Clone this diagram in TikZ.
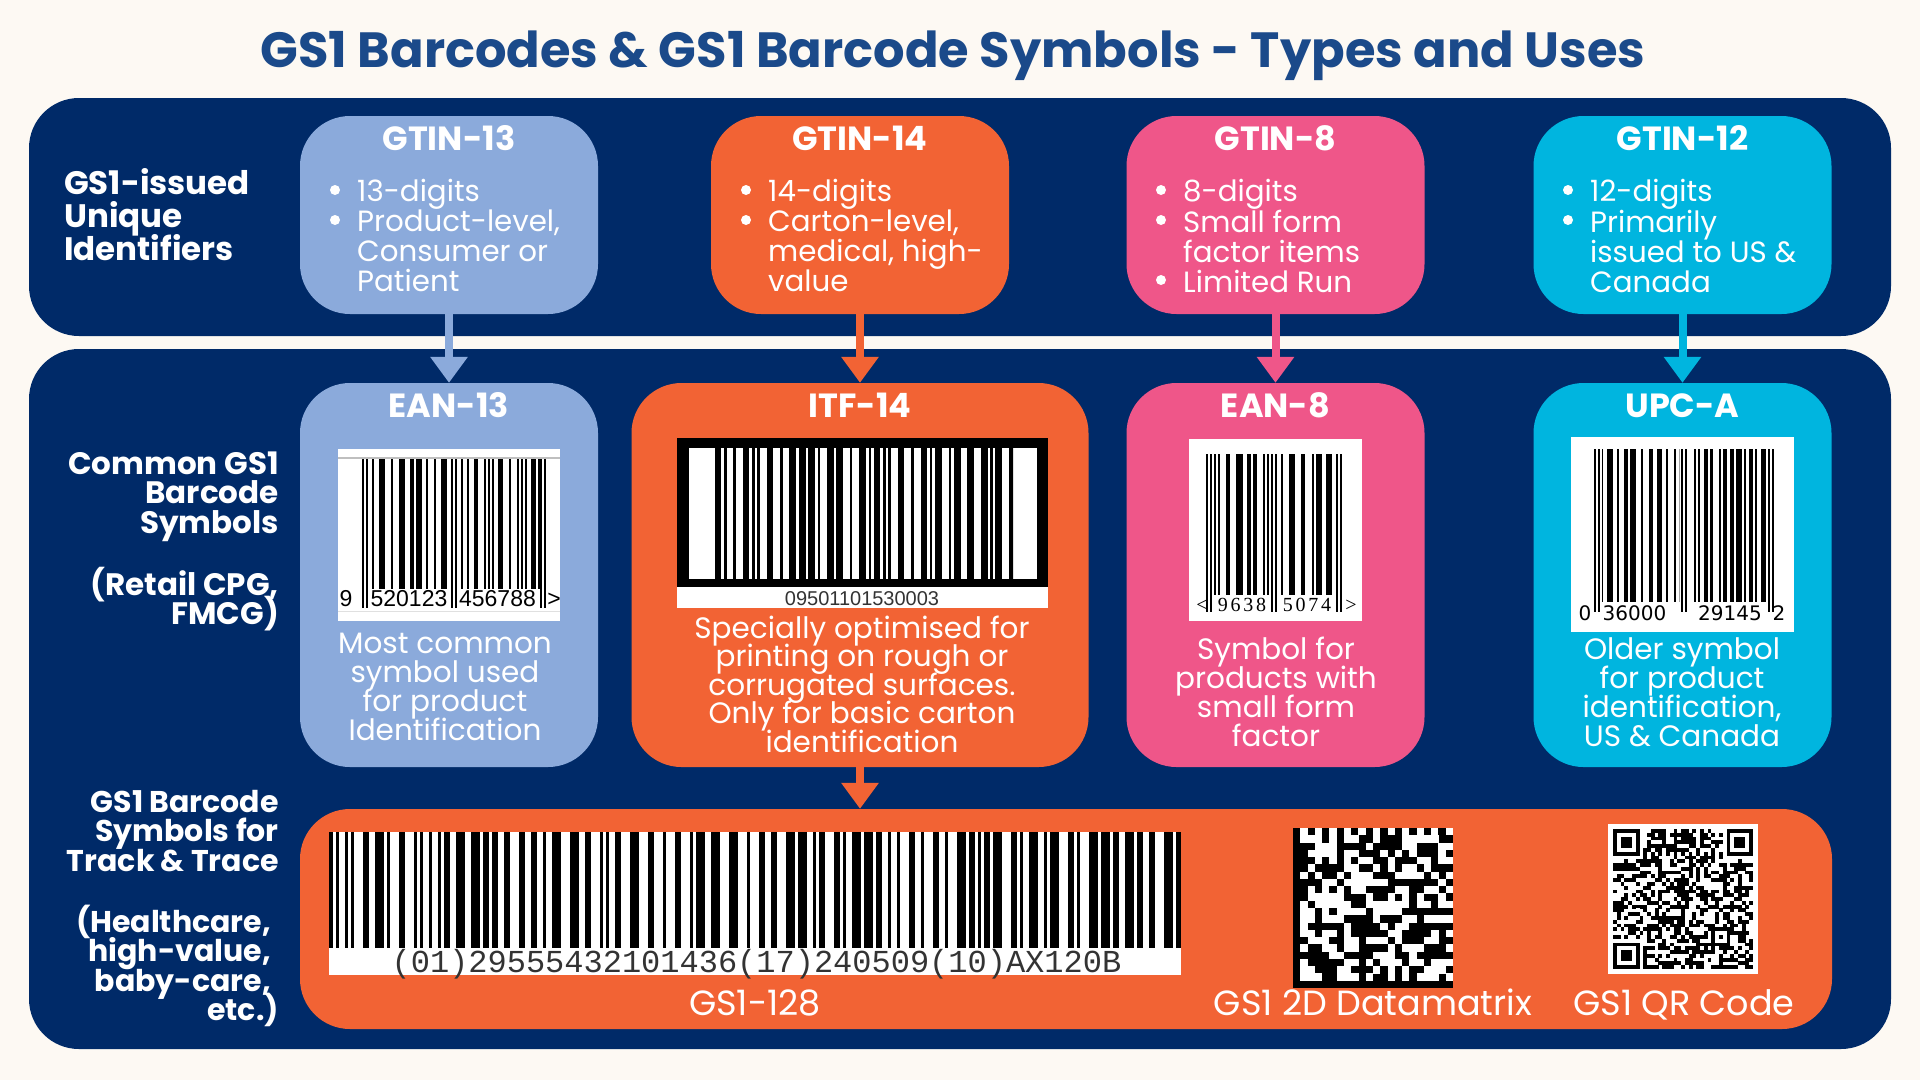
\documentclass[tikz,border=0pt]{standalone}
\usepackage{fontspec}
\setmainfont{Poppins}
\newfontfamily\monofont{Liberation Mono}
\newfontfamily\sansdigits{Liberation Sans}
\newfontfamily\dvdigits{DejaVu Sans}
\newfontfamily\serifdigits{Liberation Serif}[LetterSpace=14]
\usetikzlibrary{arrows.meta}

\definecolor{bgc}{HTML}{FDF9F3}
\definecolor{navy}{HTML}{002A68}
\definecolor{titleblue}{HTML}{1B4A8A}
\definecolor{lblue}{HTML}{8BAADB}
\definecolor{orng}{HTML}{F26334}
\definecolor{pnk}{HTML}{EF5689}
\definecolor{cyn}{HTML}{00B5DF}
\definecolor{dgray}{HTML}{333333}

\tikzset{
  panel/.style={fill=navy, rounded corners=50pt, inner sep=0pt, draw=none},
  card/.style={rounded corners=50pt, inner sep=0pt, draw=none},
  ttl/.style={text=white, font=\fontsize{33.5}{35}\selectfont\bfseries, inner sep=0pt, anchor=base},
  body/.style={text=white, font=\fontsize{29.3}{30}\selectfont, inner sep=0pt, anchor=base west},
  desc/.style={text=white, font=\fontsize{29.5}{30}\selectfont, inner sep=0pt, anchor=base},
  side/.style={text=white, font=\fontsize{31}{33}\selectfont\bfseries, inner sep=0pt},
  lbl/.style={text=white, font=\fontsize{35}{36}\selectfont, inner sep=0pt, anchor=base},
  digs/.style={inner sep=0pt, anchor=base, text=black},
  dot/.style={fill=white},
  flow/.style={line width=8pt, -{Triangle[width=36pt,length=26pt]}},
}

% lines of text: name, style, x, first baseline, step, list
\newcommand\txtlines[6]{%
  \foreach \lnx [count=\k] in {#6}
    \node[#2] (#1-\k) at (#3,{#4+(\k-1)*#5}) {\lnx};%
}
\newcommand\bulletbox[1]{\parbox[t]{270pt}{\raggedright #1}}
% random bars: x0 x1 ytop ybot module seed
\newcommand\randbars[6]{%
  \begin{scope}
  \clip ({#1},#3) rectangle ({#2},#4);
  \pgfmathsetseed{#6}%
  \pgfmathsetmacro\bx{#1}%
  \loop
    \pgfmathrandominteger{\rb}{1}{3}%
    \pgfmathrandominteger{\rs}{1}{3}%
    \pgfmathsetmacro\bxs{\bx+\rs*#5}%
    \pgfmathsetmacro\bxe{\bxs+\rb*#5}%
    \fill[black] (\bxs,#3) rectangle (\bxe,#4);
    \let\bx\bxe
    \pgfmathtruncatemacro\cont{\bxe<#2}%
  \ifnum\cont=1 \repeat
  \end{scope}%
}
% narrow / wide bars: x0 x1 ytop ybot narrow seed
\newcommand\itfbars[6]{%
  \begin{scope}
  \clip ({#1},#3) rectangle ({#2},#4);
  \pgfmathsetseed{#6}%
  \pgfmathsetmacro\bx{#1}%
  \loop
    \pgfmathrandominteger{\rb}{0}{1}%
    \pgfmathrandominteger{\rs}{0}{1}%
    \pgfmathsetmacro\bxs{\bx+(1+1.6*\rs)*#5}%
    \pgfmathsetmacro\bxe{\bxs+(1+1.6*\rb)*#5}%
    \fill[black] (\bxs,#3) rectangle (\bxe,#4);
    \let\bx\bxe
    \pgfmathtruncatemacro\cont{\bxe<#2}%
  \ifnum\cont=1 \repeat
  \end{scope}%
}
% EAN/UPC: x0 module ytop ybot yguard n seed
\newcommand\eanbars[7]{%
  \pgfmathsetmacro\modw{#2}%
  \fill[black] ({#1},#3) rectangle ({#1+\modw},#5);
  \fill[black] ({#1+2*\modw},#3) rectangle ({#1+3*\modw},#5);
  \randbars{#1+3*\modw}{#1+(3+7*#6)*\modw}{#3}{#4}{\modw}{#7}
  \fill[black] ({#1+(4+7*#6)*\modw},#3) rectangle ({#1+(5+7*#6)*\modw},#5);
  \fill[black] ({#1+(6+7*#6)*\modw},#3) rectangle ({#1+(7+7*#6)*\modw},#5);
  \randbars{#1+(8+7*#6)*\modw}{#1+(8+14*#6)*\modw}{#3}{#4}{\modw}{#7+11}
  \fill[black] ({#1+(8+14*#6)*\modw},#3) rectangle ({#1+(9+14*#6)*\modw},#5);
  \fill[black] ({#1+(10+14*#6)*\modw},#3) rectangle ({#1+(11+14*#6)*\modw},#5);
}

\begin{document}
\begin{tikzpicture}[x=1pt,y=-1pt]
\useasboundingbox (0,0) rectangle (1920,1080);
\fill[bgc] (0,0) rectangle (1920,1080);

% title
\node[font=\fontsize{49.5}{52}\selectfont\bfseries, text=titleblue, anchor=base, inner sep=0pt] (title) at (953,67) {GS1 Barcodes \& GS1 Barcode Symbols - Types and Uses};

% panels
\node[panel, minimum width=1862pt, minimum height=238pt] (p1) at (960,217) {};
\node[panel, minimum width=1862pt, minimum height=700pt] (p2) at (960,699) {};

% top cards
\node[card, fill=lblue, minimum width=298pt, minimum height=198pt] (g13) at (449,215) {};
\node[card, fill=orng, minimum width=298pt, minimum height=198pt] (g14) at (860,215) {};
\node[card, fill=pnk, minimum width=298pt, minimum height=198pt] (g8) at (1275.5,215) {};
\node[card, fill=cyn, minimum width=298pt, minimum height=198pt] (g12) at (1682.5,215) {};

% second row cards
\node[card, fill=lblue, minimum width=298pt, minimum height=384pt] (e13) at (449,575) {};
\node[card, fill=orng, minimum width=457pt, minimum height=384pt] (i14) at (860,575) {};
\node[card, fill=pnk, minimum width=298pt, minimum height=384pt] (e8) at (1275.5,575) {};
\node[card, fill=cyn, minimum width=298pt, minimum height=384pt] (upc) at (1682.5,575) {};

% track & trace card
\node[card, fill=orng, minimum width=1532pt, minimum height=220pt] (t128) at (1066,919) {};

% connectors
\draw[flow, lblue] (g13.south) -- (e13.north);
\draw[flow, orng] (g14.south) -- (i14.north);
\draw[flow, pnk] (g8.south) -- (e8.north);
\draw[flow, cyn] (g12.south) -- (upc.north);
\draw[flow, orng] (i14.south) -- (i14.south |- t128.north);

% side labels
\txtlines{sa}{side, anchor=base west, font=\fontsize{32.5}{33}\selectfont\bfseries}{64}{194}{33}{GS1-issued,Unique,Identifiers}
\txtlines{sb}{side, anchor=base east}{279}{474}{29.5}{Common GS1,Barcode,Symbols}
\txtlines{sc}{side, anchor=base east}{279}{595}{29}{{(Retail CPG,},FMCG)}
\txtlines{sd}{side, anchor=base east, font=\fontsize{30}{33}\selectfont\bfseries}{279}{812}{29.5}{GS1 Barcode,Symbols for,Track \& Trace}
\txtlines{se}{side, anchor=base east, font=\fontsize{30}{33}\selectfont\bfseries}{271}{932}{29.5}{{(Healthcare,},{high-value,},{baby-care,}}
\node[side, anchor=base east, font=\fontsize{30}{33}\selectfont\bfseries] (se-4) at (279,1020) {etc.)};

% top card titles
\node[ttl] (g13h) at (449,150) {GTIN-13};
\node[ttl] (g14h) at (860,150) {GTIN-14};
\node[ttl] (g8h) at (1275.5,150) {GTIN-8};
\node[ttl] (g12h) at (1682.5,150) {GTIN-12};

% top card bullet lists
\node[body] (b13) at (357,201) {\bulletbox{13-digits\\Product-level,\\Consumer or\\Patient}};
\node[body] (b14) at (768,201) {\bulletbox{14-digits\\Carton-level,\\medical, high-\\value}};
\node[body] (b8) at (1183,201) {\bulletbox{8-digits\\Small form\\factor items\\Limited Run}};
\node[body] (b12) at (1590,201) {\bulletbox{12-digits\\Primarily\\issued to US \&\\Canada}};
\foreach \px/\py in {335/190,335/220,746/190,746/220,1161/190,1161/220,1161/280,1568/190,1568/220}
  \fill[dot] (\px,\py) circle (5);

% second row titles
\node[ttl] (e13h) at (449,417) {EAN-13};
\node[ttl] (i14h) at (860,417) {ITF-14};
\node[ttl] (e8h) at (1275.5,417) {EAN-8};
\node[ttl] (upch) at (1682.5,417) {UPC-A};

% descriptions
\txtlines{d13}{desc}{445}{653}{29}{Most common,symbol used,for product,Identification}
\txtlines{d14}{desc}{862}{638}{28.6}{Specially optimised for,printing on rough or,corrugated surfaces.,Only for basic carton,identification}
\txtlines{d8}{desc}{1276}{659}{29}{Symbol for,products with,small form,factor}
\txtlines{dupc}{desc}{1682}{659}{29}{Older symbol,for product,{identification,},US \& Canada}

% ---------- EAN-13 barcode
\fill[white] (338,449) rectangle (560,621);
\draw[black!25, line width=1.5pt] (338,458) -- (560,458);
\draw[black!12, line width=1pt] (338,611) -- (560,611);
\eanbars{362}{1.937}{459}{589}{608}{6}{13}
\begin{scope}[font=\sansdigits\fontsize{23}{24}\selectfont]
\node[digs] (e13d1) at (346,606) {9};
\node[digs] (e13d2) at (409,606) {520123};
\node[digs] (e13d3) at (497.5,606) {456788};
\node[digs] (e13d4) at (554,606) {>};
\end{scope}

% ---------- ITF-14 barcode
\fill[black] (677,438) rectangle (1048,587);
\fill[white] (689,448) rectangle (1037,579);
\fill[white] (677,587) rectangle (1048,608);
\itfbars{712}{1013}{448}{579}{2.6}{21}
\node[digs, text=dgray, font=\sansdigits\fontsize{20}{22}\selectfont] (i14d) at (862,605) {09501101530003};

% ---------- EAN-8 barcode
\fill[white] (1189,439) rectangle (1362,621);
\eanbars{1206}{2.03}{454}{595}{612}{4}{8}
\begin{scope}[font=\serifdigits\fontsize{20}{22}\selectfont]
\node[digs] (e8d1) at (1202,611) {<};
\node[digs] (e8d2) at (1242,611) {9638};
\node[digs] (e8d3) at (1307,611) {5074};
\node[digs] (e8d4) at (1351,611) {>};
\end{scope}

% ---------- UPC-A barcode
\fill[white] (1571,437) rectangle (1794,632);
\eanbars{1594}{1.895}{449}{602}{612}{6}{31}
\begin{scope}[font=\dvdigits\fontsize{20}{22}\selectfont]
\node[digs] (ud1) at (1585,620) {0};
\node[digs] (ud2) at (1634.5,620) {36000};
\node[digs] (ud3) at (1730,620) {29145};
\node[digs] (ud4) at (1779,620) {2};
\end{scope}

% ---------- GS1-128 barcode
\fill[white] (329,832) rectangle (1181,975);
\fill[black] (329,832) rectangle (333,948);
\randbars{333}{1177}{832}{948}{3}{128}
\fill[black] (1176,832) rectangle (1181,948);
\node[digs, text=dgray, font=\monofont\fontsize{32}{34}\selectfont] (g128d) at (756.5,972) {(01)29555432101436(17)240509(10)AX120B};

% ---------- Datamatrix
\fill[black] (1293,828) rectangle (1453,988);
\pgfmathsetseed{77}
\foreach \i in {1,...,20}{\foreach \j in {1,...,20}{%
  \pgfmathrandominteger{\r}{0}{1}%
  \ifnum\r=1 \fill[white] ({1293+\i*7.2727},{828+\j*7.2727}) rectangle ++(7.35,7.35);\fi}}
\foreach \i in {1,3,...,21}{\fill[white] ({1293+\i*7.2727},828) rectangle ++(7.2727,7.2727);}
\foreach \j in {0,2,...,20}{\fill[white] ({1293+21*7.2727},{828+\j*7.2727}) rectangle ++(7.2727,7.2727);}

% ---------- QR code
\fill[white] (1608,824) rectangle (1758,974);
\pgfmathsetseed{99}
\foreach \i in {0,...,36}{\foreach \j in {0,...,36}{%
  \pgfmathrandominteger{\r}{0}{1}%
  \ifnum\r=1
    \pgfmathtruncatemacro\ex{((\i<8)&&(\j<8))||((\i>28)&&(\j<8))||((\i<8)&&(\j>28))||(\i==6)||(\j==6)||((\i>25)&&(\i<31)&&(\j>25)&&(\j<31))}%
    \ifnum\ex=0 \fill[black] ({1613+\i*3.7838},{829+\j*3.7838}) rectangle ++(3.86,3.86);\fi
  \fi}}
\foreach \fx/\fy in {0/0,30/0,0/30}{%
  \fill[black] ({1613+\fx*3.7838},{829+\fy*3.7838}) rectangle ++(26.49,26.49);
  \fill[white] ({1613+(\fx+1)*3.7838},{829+(\fy+1)*3.7838}) rectangle ++(18.92,18.92);
  \fill[black] ({1613+(\fx+2)*3.7838},{829+(\fy+2)*3.7838}) rectangle ++(11.35,11.35);}
\foreach \k in {8,10,...,28}{%
  \fill[black] ({1613+\k*3.7838},{829+6*3.7838}) rectangle ++(3.7838,3.7838);
  \fill[black] ({1613+6*3.7838},{829+\k*3.7838}) rectangle ++(3.7838,3.7838);}
\fill[black] ({1613+26*3.7838},{829+26*3.7838}) rectangle ++(18.92,18.92);
\fill[white] ({1613+27*3.7838},{829+27*3.7838}) rectangle ++(11.35,11.35);
\fill[black] ({1613+28*3.7838},{829+28*3.7838}) rectangle ++(3.7838,3.7838);

% bottom labels
\node[lbl] (l128) at (755,1015) {GS1-128};
\node[lbl] (ldm) at (1373,1015) {GS1 2D Datamatrix};
\node[lbl] (lqr) at (1684,1015) {GS1 QR Code};
\end{tikzpicture}
\end{document}
